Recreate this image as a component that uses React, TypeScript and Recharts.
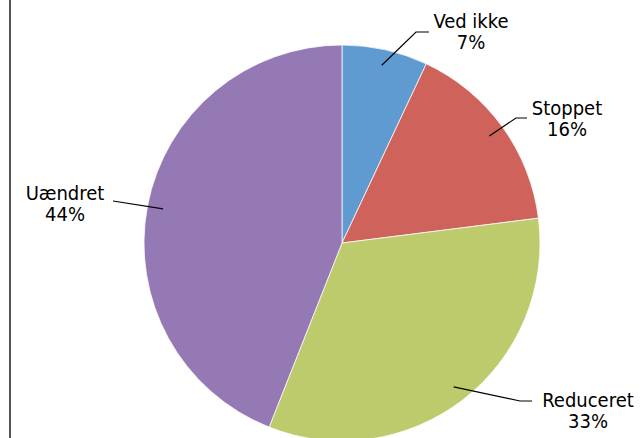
import React from "react";
import { Cell, Pie, PieChart } from "recharts";

const categories = ["Ved ikke", "Stoppet", "Reduceret", "Uændret"];
const shares = [7, 16, 33, 44];
const colors = ["#5F9BD0", "#CF635B", "#BDCB6C", "#9479B5"];

const data = categories.map((name, i) => ({ name, value: shares[i] }));

// label placement relative to pie centre: leader elbow, leader end, text centre/baseline
const labelLayout: Record<string, { elbow: [number, number]; end: [number, number]; text: [number, number] }> = {
  "Ved ikke": { elbow: [74, -211], end: [87, -211], text: [129, -215] },
  Stoppet: { elbow: [174, -125], end: [185, -125], text: [225, -128] },
  Reduceret: { elbow: [178, 158], end: [190, 158], text: [246, 164] },
  Uændret: { elbow: [-229, -42], end: [-229, -42], text: [-277, -43] },
};

const RADIAN = Math.PI / 180;
const FONT = "'DejaVu Sans Condensed', 'DejaVu Sans', sans-serif";

function SliceLabel(props: any) {
  const { cx, cy, midAngle, outerRadius, name, percent } = props;
  const layout = labelLayout[name];
  if (!layout) return null;
  const r = outerRadius * 0.92;
  const sx = cx + r * Math.cos(-midAngle * RADIAN);
  const sy = cy + r * Math.sin(-midAngle * RADIAN);
  const ex = cx + layout.elbow[0];
  const ey = cy + layout.elbow[1];
  const fx = cx + layout.end[0];
  const fy = cy + layout.end[1];
  const tx = cx + layout.text[0];
  const ty = cy + layout.text[1];
  return (
    <g>
      <polyline points={`${sx},${sy} ${ex},${ey} ${fx},${fy}`} fill="none" stroke="#000" strokeWidth={1.2} />
      <text x={tx} y={ty} textAnchor="middle" fill="#000" fontSize={20} fontFamily={FONT}>
        {name}
      </text>
      <text x={tx} y={ty + 21} textAnchor="middle" fill="#000" fontSize={20} fontFamily={FONT}>
        {`${Math.round(percent * 100)}%`}
      </text>
    </g>
  );
}

export default function App() {
  return (
    <div style={{ position: "absolute", left: 0, top: 0, width: 641, height: 438, background: "#fff", overflow: "hidden" }}>
      <div style={{ position: "absolute", left: 9, top: 0, width: 2, height: 438, background: "#555" }} />
      <PieChart
        width={641}
        height={438}
        margin={{ top: 0, right: 0, bottom: 0, left: 0 }}
        style={{ position: "absolute", left: 0, top: 0 }}
      >
        <Pie
          data={data}
          dataKey="value"
          nameKey="name"
          cx={342}
          cy={243}
          outerRadius={198}
          startAngle={90}
          endAngle={-270}
          stroke="#fff"
          strokeWidth={0.75}
          label={SliceLabel}
          labelLine={false}
          isAnimationActive={false}
        >
          {data.map((d, i) => (
            <Cell key={d.name} fill={colors[i]} />
          ))}
        </Pie>
      </PieChart>
    </div>
  );
}
